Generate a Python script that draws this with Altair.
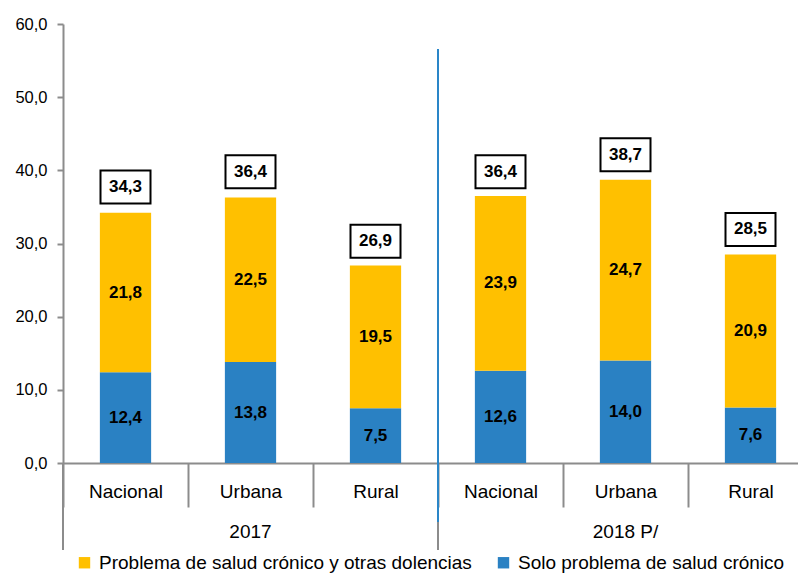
import altair as alt
import pandas as pd

# ---- data ----
years = ["2017", "2017", "2017", "2018 P/", "2018 P/", "2018 P/"]
areas = ["Nacional", "Urbana", "Rural", "Nacional", "Urbana", "Rural"]
solo = [12.4, 13.8, 7.5, 12.6, 14.0, 7.6]
otras = [21.8, 22.5, 19.5, 23.9, 24.7, 20.9]
totales = [34.3, 36.4, 26.9, 36.4, 38.7, 28.5]
series = ["Problema de salud crónico y otras dolencias", "Solo problema de salud crónico"]
colors = ["#FFC000", "#2A81C3"]
group_labels = ["2017", "2018 P/"]

FONT = "Liberation Sans, Arial"
GRAY = "#8c8c8c"

keys = [f"{y}|{a}" for y, a in zip(years, areas)]
rows = []
for k, s, o in zip(keys, solo, otras):
    rows.append({"cat": k, "serie": series[1], "valor": s, "ord": 0, "mid": s / 2})
    rows.append({"cat": k, "serie": series[0], "valor": o, "ord": 1, "mid": s + o / 2})
df = pd.DataFrame(rows)
tot = pd.DataFrame({"cat": keys, "total": totales})
groups = pd.DataFrame({"cat": [f"{g}|Urbana" for g in group_labels], "label": group_labels})
seps = pd.DataFrame({"cat": [f"{g}|Nacional" for g in group_labels]})
divider = pd.DataFrame({"cat": [f"{group_labels[1]}|Nacional"]})

xscale = alt.Scale(domain=keys, range=[0, 750], paddingInner=0, paddingOuter=0)
yscale = alt.Scale(domain=[0, 60])
fmt = "replace(format(datum.{f}, '.1f'), '.', ',')"

x_enc = alt.X("cat:N", sort=keys, scale=xscale, axis=alt.Axis(
    title=None, labelExpr="split(datum.label, '|')[1]", tickBand="extent",
    tickSize=44, tickColor=GRAY, tickWidth=2, domainColor=GRAY, domainWidth=2,
    labelPadding=-16, labelBaseline="middle", labelAlign="center", labelFontSize=19,
    labelColor="black", labelAngle=0, labelFont=FONT))

bars = alt.Chart(df).mark_bar(width=alt.RelativeBandSize(0.41)).encode(
    x=x_enc,
    y=alt.Y("valor:Q", stack="zero", scale=yscale, axis=alt.Axis(
        title=None, values=[0, 10, 20, 30, 40, 50, 60],
        labelExpr="replace(format(datum.value, '.1f'), '.', ',')",
        labelFontSize=16.5, labelFont=FONT, labelColor="black", labelPadding=10,
        tickSize=6, tickColor=GRAY, tickWidth=2, domainColor=GRAY, domainWidth=2, grid=False)),
    color=alt.Color("serie:N", scale=alt.Scale(domain=series, range=colors), legend=alt.Legend(
        orient="none", legendX=12, legendY=529, direction="horizontal", title=None,
        symbolType="square", symbolSize=130, symbolStrokeWidth=0, labelFontSize=19,
        labelFont=FONT, labelColor="black", columnPadding=22, labelOffset=5, labelLimit=0)),
    order=alt.Order("ord:Q"),
)

seg_text = alt.Chart(df).transform_calculate(lab=fmt.format(f="valor")).mark_text(
    font=FONT, fontSize=17, fontWeight="bold", color="black").encode(
    x=alt.X("cat:N", sort=keys, scale=xscale),
    y=alt.Y("mid:Q", scale=yscale),
    text="lab:N",
)

boxes = alt.Chart(tot).mark_point(
    shape="M-1,-0.66H1V0.66H-1Z", size=2500, fill="white", stroke="black",
    strokeWidth=2, opacity=1, fillOpacity=1, yOffset=-25).encode(
    x=alt.X("cat:N", sort=keys, scale=xscale),
    y=alt.Y("total:Q", scale=yscale),
)
box_text = alt.Chart(tot).transform_calculate(lab=fmt.format(f="total")).mark_text(
    font=FONT, fontSize=17, fontWeight="bold", color="black", yOffset=-25).encode(
    x=alt.X("cat:N", sort=keys, scale=xscale),
    y=alt.Y("total:Q", scale=yscale),
    text="lab:N",
)

sep_rules = alt.Chart(seps).mark_rule(color=GRAY, strokeWidth=2).encode(
    x=alt.X("cat:N", sort=keys, scale=xscale, bandPosition=0),
    y=alt.value(439), y2=alt.value(526),
)
div_rule = alt.Chart(divider).mark_rule(color="#2A86C8", strokeWidth=2).encode(
    x=alt.X("cat:N", sort=keys, scale=xscale, bandPosition=0),
    y=alt.value(25), y2=alt.value(498),
)
grp_text = alt.Chart(groups).mark_text(font=FONT, fontSize=19, color="black", baseline="middle").encode(
    x=alt.X("cat:N", sort=keys, scale=xscale),
    y=alt.value(508),
    text="label:N",
)

chart = alt.layer(sep_rules, bars, seg_text, boxes, box_text, div_rule, grp_text).properties(
    width=735, height=439,
    padding={"left": 55, "top": 16, "right": 0, "bottom": 111},
    autosize=alt.AutoSizeParams(type="none"),
).configure_view(stroke=None)

chart.save("out.html", embed_options={"renderer": "svg", "actions": False})
